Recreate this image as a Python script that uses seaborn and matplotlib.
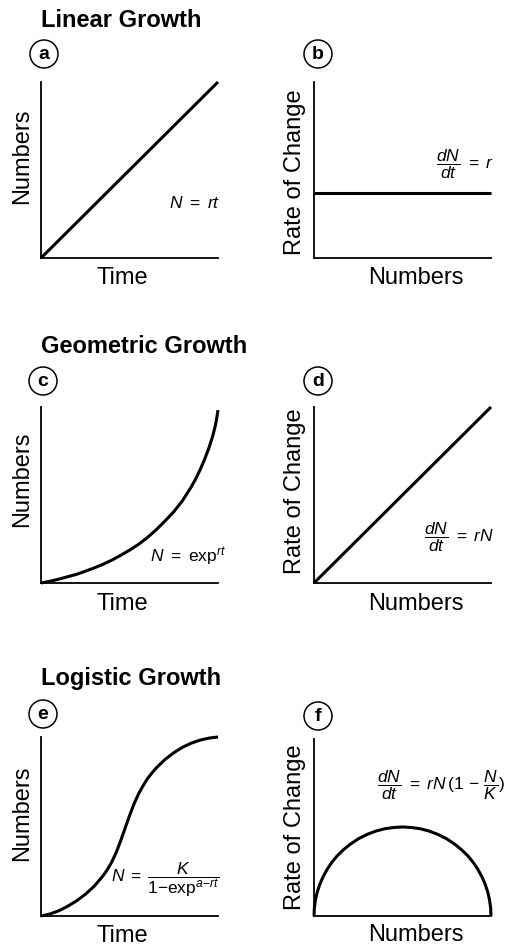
import matplotlib
matplotlib.use("Agg")
import matplotlib.pyplot as plt
from matplotlib.patches import Circle
import seaborn as sns

# ---- curve values (normalised axes, 0..1) ----
linear_time = [0.0, 1.0]
linear_numbers = [0.0, 1.0]
linear_rate_numbers = [0.0, 1.0]
linear_rate = [0.37, 0.37]

geo_time = [0.0, 0.05, 0.1, 0.15, 0.2, 0.25, 0.3, 0.35, 0.4, 0.45, 0.5, 0.55,
            0.6, 0.65, 0.7, 0.75, 0.8, 0.85, 0.875, 0.9, 0.925, 0.95, 0.97,
            0.985, 0.993, 1.0]
geo_numbers = [0.0, 0.010, 0.022, 0.036, 0.050, 0.068, 0.087, 0.108, 0.132,
               0.160, 0.190, 0.223, 0.262, 0.307, 0.358, 0.412, 0.477, 0.558,
               0.604, 0.657, 0.717, 0.785, 0.850, 0.910, 0.955, 1.0]
geo_rate_numbers = [0.0, 1.0]
geo_rate = [0.0, 1.0]

log_time = [0.0, 0.05, 0.1, 0.15, 0.2, 0.25, 0.3, 0.35, 0.375, 0.4, 0.425,
            0.45, 0.475, 0.5, 0.525, 0.55, 0.575, 0.6, 0.625, 0.65, 0.7, 0.75,
            0.8, 0.85, 0.9, 0.95, 1.0]
log_numbers = [0.0, 0.011, 0.029, 0.054, 0.084, 0.121, 0.166, 0.224, 0.259,
               0.302, 0.355, 0.420, 0.490, 0.560, 0.625, 0.680, 0.725, 0.765,
               0.797, 0.826, 0.874, 0.912, 0.943, 0.966, 0.983, 0.994, 1.0]
log_rate_numbers = [0.0, 0.002, 0.008, 0.018, 0.032, 0.05, 0.075, 0.1, 0.13,
                    0.165, 0.2, 0.25, 0.3, 0.35, 0.4, 0.45, 0.5, 0.55, 0.6,
                    0.65, 0.7, 0.75, 0.8, 0.835, 0.87, 0.9, 0.925, 0.95,
                    0.968, 0.982, 0.992, 0.998, 1.0]
log_rate = [0.0, 0.045, 0.090, 0.134, 0.177, 0.219, 0.265, 0.302, 0.339,
            0.373, 0.402, 0.436, 0.461, 0.480, 0.493, 0.500, 0.503, 0.500,
            0.493, 0.480, 0.461, 0.436, 0.402, 0.373, 0.339, 0.302, 0.265,
            0.219, 0.177, 0.134, 0.090, 0.045, 0.0]

section_titles = ["Linear Growth", "Geometric Growth", "Logistic Growth"]
panel_letters = ["a", "b", "c", "d", "e", "f"]
x_labels = ["Time", "Numbers"]
y_labels = ["Numbers", "Rate of Change"]
equations = [
    r"$N\ =\ rt$",
    r"$\dfrac{dN}{dt}\ =\ r$",
    r"$N\ =\ \mathrm{exp}^{rt}$",
    r"$\dfrac{dN}{dt}\ =\ rN$",
    r"$N\;=\;\dfrac{K}{1{-}\mathrm{exp}^{a{-}rt}}$",
    r"$\dfrac{dN}{dt}\ =\ rN\,(1\,-\,\dfrac{N}{K})$",
]

series = [
    (linear_time, linear_numbers), (linear_rate_numbers, linear_rate),
    (geo_time, geo_numbers), (geo_rate_numbers, geo_rate),
    (log_time, log_numbers), (log_rate_numbers, log_rate),
]

# ---- style ----
sns.set_theme(style="white")
plt.rcParams["font.family"] = ["Liberation Sans", "DejaVu Sans"]
plt.rcParams["mathtext.fontset"] = "custom"
plt.rcParams["mathtext.rm"] = "Liberation Sans"
plt.rcParams["mathtext.it"] = "Liberation Sans:italic"
plt.rcParams["mathtext.bf"] = "Liberation Sans:bold"

W, H = 515, 946
fig = plt.figure(figsize=(W / 100, H / 100), dpi=100)
fig.patch.set_facecolor("white")


def px(x, y):
    """Pixel position (from top-left) -> inches for dpi_scale_trans."""
    return x / 100, (H - y) / 100


row_top = [82, 407, 737]
row_bottom = [258, 583, 916]
col_left = [41, 314]
ax_w = 177
y_top = [1.0, 1.0, 1.018, 1.0, 1.0, 1.0]

ylabel_y = [[0.58, 0.49], [0.59, 0.52], [0.575, 0.50]]
xlabel_y = [-0.114, -0.12, -0.11]
xlabel_x = [0.458, 0.576]

circle_centers = [(44, 54), (318, 54), (43, 381), (318, 381), (43, 714), (318, 716)]
title_pos = [(41, 27), (41, 353), (41, 685)]

eq_layout = [
    dict(xy=(220, 203), ha="right", va="center"),
    dict(xy=(494, 164), ha="right", va="center"),
    dict(xy=(226, 562), ha="right", va="baseline"),
    dict(xy=(494, 537), ha="right", va="center"),
    dict(xy=(219, 880), ha="right", va="center"),
    dict(xy=(377, 785), ha="left", va="center"),
]

for i, (xs, ys) in enumerate(series):
    row, col = divmod(i, 2)
    top, bottom = row_top[row], row_bottom[row]
    if i == 5:
        top = 739
    ax = fig.add_axes([col_left[col] / W, 1 - bottom / H, ax_w / W, (bottom - top) / H])
    sns.lineplot(x=xs, y=ys, ax=ax, color="black", linewidth=2.2, sort=False)
    for ln in ax.lines:
        ln.set_clip_on(False)
        ln.set_solid_capstyle("butt")
        ln.set_solid_joinstyle("round")
    ax.set_xlim(0, 1)
    ax.set_ylim(0, y_top[i])
    ax.set_xticks([])
    ax.set_yticks([])
    sns.despine(ax=ax)
    for s in ("left", "bottom"):
        ax.spines[s].set_color("black")
        ax.spines[s].set_linewidth(1.3)
    ax.set_facecolor("none")

    ax.set_xlabel(x_labels[col], fontsize=17, color="black")
    ax.set_ylabel(y_labels[col], fontsize=17, color="black")
    ax.xaxis.label.set_verticalalignment("center")
    ax.yaxis.label.set_verticalalignment("center")
    ax.xaxis.set_label_coords(xlabel_x[col], xlabel_y[row])
    ax.yaxis.set_label_coords(-0.107, ylabel_y[row][col])

    eq = eq_layout[i]
    fig.text(*px(*eq["xy"]), equations[i], transform=fig.dpi_scale_trans,
             ha=eq["ha"], va=eq["va"], fontsize=12.5, color="black")

    cx, cy = circle_centers[i]
    fig.patches.append(Circle(px(cx, cy), 0.14, transform=fig.dpi_scale_trans,
                              facecolor="white", edgecolor="black", linewidth=1.1))
    fig.text(*px(cx, cy + 0.5), panel_letters[i], transform=fig.dpi_scale_trans,
             ha="center", va="center", fontsize=14, fontweight="bold",
             family=["Liberation Sans Narrow", "Liberation Sans"], color="black")

for title, (tx, ty) in zip(section_titles, title_pos):
    fig.text(*px(tx, ty), title, transform=fig.dpi_scale_trans, ha="left",
             va="baseline", fontsize=17, fontweight="bold", color="black")

fig.savefig("out.png", dpi=100, facecolor="white")
